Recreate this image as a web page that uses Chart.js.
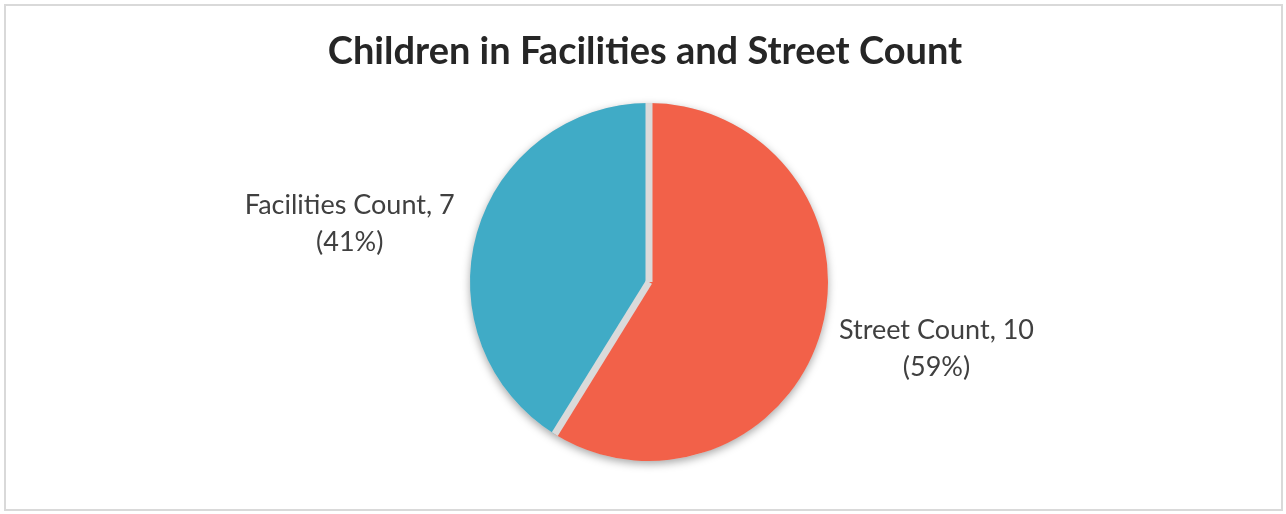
<!DOCTYPE html>
<html lang="en">
<head>
    <meta charset="UTF-8">
    <title>Children in Facilities and Street Count</title>
    <script src="https://cdn.jsdelivr.net/npm/chart.js@4/dist/chart.umd.min.js"></script>
    <style>
        * {
            margin: 0;
            padding: 0;
            box-sizing: border-box;
        }

        body {
            background: #ffffff;
            width: 1286px;
            height: 514px;
            overflow: hidden;
        }

        .chart-box {
            position: relative;
            width: 1286px;
            height: 514px;
        }
    </style>
</head>
<body>
    <div class="chart-box">
        <canvas id="pieChart" width="1286" height="514"></canvas>
    </div>

    <script>
        // Chart data
        const chartTitle = 'Children in Facilities and Street Count';
        const categories = ['Street Count', 'Facilities Count'];
        const counts = [10, 7];
        const sliceColors = ['#F26149', '#40ABC6'];

        const labelFont = '27px Lato, "Open Sans", sans-serif';
        const titleFont = 'bold 38px Lato, "Open Sans", sans-serif';

        // Label anchor for each slice, in units of the pie radius from the centre
        const labelPlacement = [
            { dx: 1.606, dy: 0.377 },
            { dx: -1.672, dy: -0.322 }
        ];

        // Outer frame + title
        const frameAndTitle = {
            id: 'frameAndTitle',
            beforeDraw(chart) {
                const ctx = chart.ctx;
                ctx.save();
                ctx.strokeStyle = '#d9d9d9';
                ctx.lineWidth = 2;
                ctx.strokeRect(5, 5, chart.width - 9, chart.height - 9);

                ctx.fillStyle = '#262626';
                ctx.font = titleFont;
                ctx.textAlign = 'center';
                ctx.textBaseline = 'middle';
                ctx.fillText(chartTitle, 645, 52);
                ctx.restore();
            }
        };

        // Soft shadow under the pie
        const pieShadow = {
            id: 'pieShadow',
            beforeDatasetsDraw(chart) {
                const arc = chart.getDatasetMeta(0).data[0];
                if (!arc) return;
                const ctx = chart.ctx;
                ctx.save();
                ctx.shadowColor = 'rgba(0, 0, 0, 0.35)';
                ctx.shadowBlur = 9;
                ctx.shadowOffsetY = 3;
                ctx.fillStyle = '#dadada';
                ctx.beginPath();
                ctx.arc(arc.x, arc.y, arc.outerRadius, 0, Math.PI * 2);
                ctx.fill();
                ctx.restore();
            }
        };

        // Grey separators along the slice edges, then the text labels
        const sliceLabels = {
            id: 'sliceLabels',
            afterDatasetsDraw(chart) {
                const meta = chart.getDatasetMeta(0);
                const total = counts.reduce((a, b) => a + b, 0);
                const ctx = chart.ctx;
                ctx.save();

                ctx.strokeStyle = '#dadada';
                ctx.lineWidth = 7;
                ctx.lineCap = 'butt';
                meta.data.forEach(arc => {
                    ctx.beginPath();
                    ctx.moveTo(arc.x, arc.y);
                    ctx.lineTo(arc.x + Math.cos(arc.startAngle) * arc.outerRadius,
                               arc.y + Math.sin(arc.startAngle) * arc.outerRadius);
                    ctx.stroke();
                });

                ctx.fillStyle = '#404040';
                ctx.font = labelFont;
                ctx.textAlign = 'center';
                ctx.textBaseline = 'middle';
                meta.data.forEach((arc, i) => {
                    const r = arc.outerRadius;
                    const x = arc.x + labelPlacement[i].dx * r;
                    const y = arc.y + labelPlacement[i].dy * r;
                    const pct = Math.round(counts[i] / total * 100);
                    ctx.fillText(categories[i] + ', ' + counts[i], x, y - 19);
                    ctx.fillText('(' + pct + '%)', x, y + 18);
                });
                ctx.restore();
            }
        };

        new Chart(document.getElementById('pieChart'), {
            type: 'pie',
            data: {
                labels: categories,
                datasets: [{
                    data: counts,
                    backgroundColor: sliceColors,
                    borderWidth: 0
                }]
            },
            options: {
                responsive: false,
                animation: false,
                layout: {
                    padding: { top: 103, bottom: 53, left: 12, right: 0 }
                },
                plugins: {
                    legend: { display: false },
                    title: { display: false },
                    tooltip: { enabled: false }
                }
            },
            plugins: [frameAndTitle, pieShadow, sliceLabels]
        });
    </script>
</body>
</html>
